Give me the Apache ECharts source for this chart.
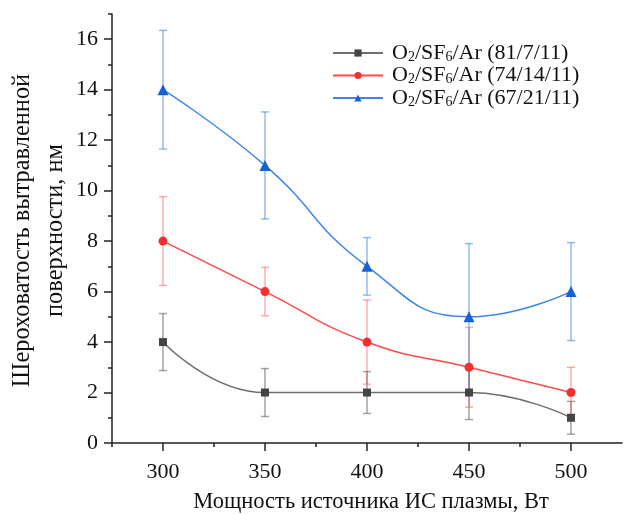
<!DOCTYPE html>
<html>
<head>
<meta charset="utf-8">
<script src="https://cdn.jsdelivr.net/npm/echarts@6/dist/echarts.min.js"></script>
<style>
  html, body { margin: 0; padding: 0; background: #ffffff; }
  #chart { width: 640px; height: 515px; }
</style>
</head>
<body>
<div id="chart"></div>
<script>
// ICP source power, W
const powers = [300, 350, 400, 450, 500];

// Surface roughness (nm) and its spread for each O2/SF6/Ar mixture
const rough81 = [4, 2, 2, 2, 1];
const err81   = [1.13, 0.95, 0.83, 1.07, 0.65];
const rough74 = [8, 6, 4, 3, 2];
const err74   = [1.76, 0.96, 1.67, 1.58, 1.0];
const rough67 = [14, 11, 7, 5, 6];
const err67   = [2.35, 2.12, 1.14, 2.9, 1.94];

const seriesNames = ['O2/SF6/Ar (81/7/11)', 'O2/SF6/Ar (74/14/11)', 'O2/SF6/Ar (67/21/11)'];
const legendRich = {
  'O2/SF6/Ar (81/7/11)':  'O{s|2}/SF{s|6}/Ar (81/7/11)',
  'O2/SF6/Ar (74/14/11)': 'O{s|2}/SF{s|6}/Ar (74/14/11)',
  'O2/SF6/Ar (67/21/11)': 'O{s|2}/SF{s|6}/Ar (67/21/11)'
};

// Tick positions
const xMajor = [300, 350, 400, 450, 500];
const xMinor = [275, 325, 375, 425, 475];
const yMajor = [0, 2, 4, 6, 8, 10, 12, 14, 16];
const yMinor = [1, 3, 5, 7, 9, 11, 13, 15, 17];

const FONT = '"Liberation Serif", "Times New Roman", serif';
const AXIS_COLOR = '#222222';

const palette = [
  { line: '#6e6e6e', mark: '#444444', bar: 'rgba(90,90,90,0.55)' },
  { line: '#ff4a4a', mark: '#f23030', bar: 'rgba(255,70,70,0.45)' },
  { line: '#3d87ea', mark: '#1562d6', bar: 'rgba(40,120,232,0.5)' }
];
const symbols = ['rect', 'circle', 'triangle'];
const symbolSizes = [8, 9, 11];
const values = [rough81, rough74, rough67];
const spreads = [err81, err74, err67];

function pairs(ys) { return powers.map((x, i) => [x, ys[i]]); }
function errData(ys, es) { return powers.map((x, i) => [x, ys[i] - es[i], ys[i] + es[i]]); }

function errorBarRenderer(color) {
  return function (params, api) {
    const x = api.value(0);
    const lo = api.coord([x, api.value(1)]);
    const hi = api.coord([x, api.value(2)]);
    const w = 4;
    const style = { stroke: color, lineWidth: 1.5, fill: null };
    return {
      type: 'group',
      children: [
        { type: 'line', shape: { x1: hi[0], y1: hi[1], x2: lo[0], y2: lo[1] }, style: style },
        { type: 'line', shape: { x1: hi[0] - w, y1: hi[1], x2: hi[0] + w, y2: hi[1] }, style: style },
        { type: 'line', shape: { x1: lo[0] - w, y1: lo[1], x2: lo[0] + w, y2: lo[1] }, style: style }
      ]
    };
  };
}

const series = [];
values.forEach((ys, k) => {
  series.push({
    type: 'custom',
    name: seriesNames[k] + ' err',
    renderItem: errorBarRenderer(palette[k].bar),
    data: errData(ys, spreads[k]),
    encode: { x: 0, y: [1, 2] },
    z: 1,
    silent: true
  });
});
values.forEach((ys, k) => {
  series.push({
    type: 'line',
    name: seriesNames[k],
    data: pairs(ys),
    smooth: 0.5,
    symbol: symbols[k],
    symbolSize: symbolSizes[k],
    showSymbol: true,
    lineStyle: { color: palette[k].line, width: 1.5 },
    itemStyle: { color: palette[k].mark },
    z: 3
  });
});

const chart = echarts.init(document.getElementById('chart'), null, { renderer: 'canvas' });
chart.setOption({
  animation: false,
  backgroundColor: '#ffffff',
  grid: { left: 112, right: 18, top: 14, bottom: 72, containLabel: false, outerBoundsMode: 'none' },
  legend: {
    data: seriesNames,
    orient: 'vertical',
    left: 327,
    top: 36,
    itemWidth: 50,
    itemHeight: 9,
    itemGap: -0.5,
    formatter: (name) => legendRich[name],
    textStyle: {
      fontFamily: FONT,
      fontSize: 22,
      color: '#111111',
      lineHeight: 22,
      padding: [0, 0, 0, 4],
      rich: {
        s: { fontFamily: FONT, fontSize: 14, color: '#111111', verticalAlign: 'bottom', lineHeight: 14, padding: [9, 0, 0, 0] }
      }
    }
  },
  xAxis: [
    {
      type: 'value', min: 275, max: 525, position: 'bottom',
      axisLine: { show: true, onZero: false, lineStyle: { color: AXIS_COLOR, width: 1.5 } },
      axisTick: { show: true, customValues: xMajor, length: 8, inside: false, lineStyle: { color: AXIS_COLOR, width: 1.5 } },
      axisLabel: { show: true, customValues: xMajor, fontFamily: FONT, fontSize: 22, color: '#111111', margin: 18 },
      splitLine: { show: false },
      name: 'Мощность источника ИС плазмы, Вт',
      nameLocation: 'middle',
      nameGap: 48,
      nameMoveOverlap: false,
      nameTextStyle: { fontFamily: FONT, fontSize: 22.5, color: '#111111', padding: [0, 0, 0, 8] }
    },
    {
      type: 'value', min: 275, max: 525, position: 'bottom',
      axisLine: { show: false },
      axisTick: { show: true, customValues: xMinor, length: 4, inside: false, lineStyle: { color: AXIS_COLOR, width: 1.5 } },
      axisLabel: { show: false },
      splitLine: { show: false }
    }
  ],
  yAxis: [
    {
      type: 'value', min: 0, max: 17, position: 'left',
      axisLine: { show: true, onZero: false, lineStyle: { color: AXIS_COLOR, width: 1.5 } },
      axisTick: { show: true, customValues: yMajor, length: 8, inside: false, lineStyle: { color: AXIS_COLOR, width: 1.5 } },
      axisLabel: { show: true, customValues: yMajor, fontFamily: FONT, fontSize: 22, color: '#111111', margin: 14 },
      splitLine: { show: false },
      name: 'Шероховатость вытравленной\nповерхности, нм',
      nameLocation: 'middle',
      nameRotate: 90,
      nameGap: 40,
      nameMoveOverlap: false,
      nameTextStyle: { fontFamily: FONT, fontSize: 24.4, color: '#111111', lineHeight: 33, padding: [0, 4, 0, 0] }
    },
    {
      type: 'value', min: 0, max: 17, position: 'left',
      axisLine: { show: false },
      axisTick: { show: true, customValues: yMinor, length: 4, inside: false, lineStyle: { color: AXIS_COLOR, width: 1.5 } },
      axisLabel: { show: false },
      splitLine: { show: false }
    }
  ],
  series: series
});
</script>
</body>
</html>
